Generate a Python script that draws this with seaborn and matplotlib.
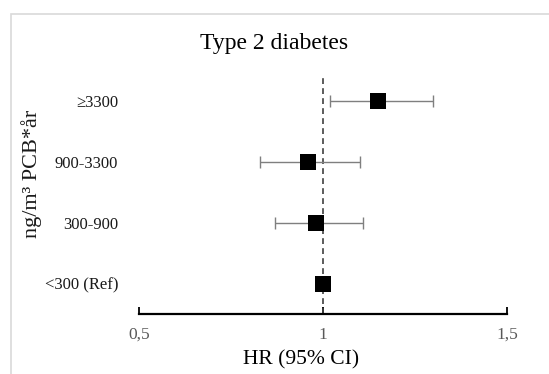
import numpy as np
import pandas as pd
import matplotlib
matplotlib.use("Agg")
import matplotlib.pyplot as plt
import seaborn as sns
from matplotlib.patches import Rectangle

# data
groups = ["<300 (Ref)", "300-900", "900-3300", "\u22653300"]
hr = [1.00, 0.98, 0.96, 1.15]
ci_low = [1.00, 0.87, 0.83, 1.02]
ci_high = [1.00, 1.11, 1.10, 1.30]
x_ticks = [0.5, 1.0, 1.5]
x_tick_labels = ["0,5", "1", "1,5"]

df = pd.DataFrame({"group": groups, "hr": hr, "lo": ci_low, "hi": ci_high})
df["pos"] = np.arange(len(df))

sns.set_style("white")
plt.rcParams["font.family"] = ["Liberation Serif", "DejaVu Serif"]

fig = plt.figure(figsize=(5.49, 3.74), dpi=100)
ax = fig.add_axes([0.253, 0.1604, 0.6705, 0.636])

# light frame around the chart area
fig.patches.append(Rectangle((11 / 549, -0.1), 1.0, 1 - 14 / 374 + 0.1,
                             transform=fig.transFigure, fill=False,
                             edgecolor="#d9d9d9", linewidth=1.2))

# reference line at HR = 1
ax.axvline(1.0, color="#404040", linestyle=(0, (3.5, 2.5)), linewidth=1.2, zorder=1)

# confidence intervals
has_ci = df["hi"] > df["lo"]
sub = df[has_ci]
ax.errorbar(sub["hr"], sub["pos"],
            xerr=[sub["hr"] - sub["lo"], sub["hi"] - sub["hr"]],
            fmt="none", ecolor="#7f7f7f", elinewidth=1.0, capsize=4.5,
            capthick=1.0, zorder=2)

# point estimates
sns.scatterplot(data=df, x="hr", y="pos", marker="s", s=118, color="black",
                edgecolor="black", linewidth=0, zorder=3, ax=ax, legend=False)

ax.set_xlim(0.5, 1.5)
ax.set_ylim(-0.5, 3.4)
ax.set_xticks(x_ticks)
ax.set_xticklabels(x_tick_labels, color="#595959", fontsize=12.5)
ax.set_yticks(df["pos"])
ax.set_yticklabels(df["group"], fontsize=12, color="#1a1a1a")
ax.tick_params(axis="y", left=False, length=0, pad=15)
ax.tick_params(axis="x", bottom=True, direction="in", length=5, width=1.3,
               color="black", pad=9)

for side in ["top", "right", "left"]:
    ax.spines[side].set_visible(False)
ax.spines["bottom"].set_color("black")
ax.spines["bottom"].set_linewidth(1.6)

ax.set_xlabel("")
ax.set_ylabel("ng/m\u00b3 PCB*år", fontsize=16, color="#1a1a1a")
ax.yaxis.set_label_coords(-0.262, 0.588)

fig.text(0.5, 0.885, "Type 2 diabetes", ha="center", va="center",
         fontsize=17, color="black")
fig.text(0.549, 0.037, "HR (95% CI)", ha="center", va="center",
         fontsize=15.5, color="black")

fig.savefig("out.png", dpi=100)
